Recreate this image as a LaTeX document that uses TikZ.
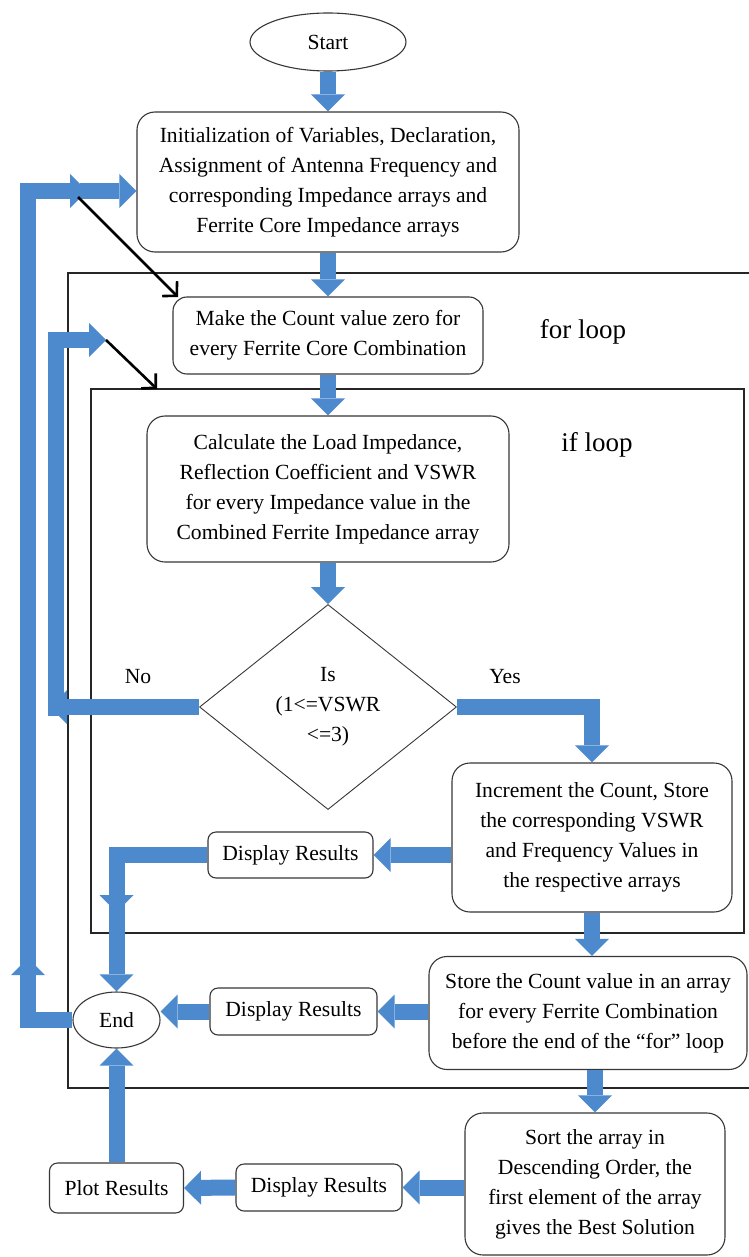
\documentclass[tikz,border=0pt]{standalone}
\usepackage{fontspec}
\setmainfont{Liberation Serif}
\usetikzlibrary{shapes.geometric,arrows.meta}
\definecolor{flowblue}{RGB}{76,138,205}
\definecolor{boxline}{RGB}{55,55,55}
\begin{document}
\begin{tikzpicture}[x=1pt,y=-1pt,
  every node/.style={font=\fontsize{21.6}{30}\selectfont, align=center, inner sep=0pt},
  bigbox/.style={draw=boxline, line width=1.1pt, rounded corners=18pt, fill=white},
  smallbox/.style={draw=boxline, line width=1.1pt, rounded corners=8pt, fill=white},
  term/.style={draw=boxline, line width=1.1pt, ellipse, fill=white},
  decision/.style={draw=boxline, line width=0.9pt, diamond},
  frame/.style={draw=black!85, line width=1.3pt},
  flow/.style={draw=flowblue, line width=16pt, line join=miter,
     -{Triangle[length=17pt,width=34pt,line width=0pt]}},
  jump/.style={draw=black, line width=2.6pt, -{Straight Barb[length=10pt,width=21pt]}},
  loopname/.style={font=\fontsize{27}{32}\selectfont}]
\useasboundingbox (0,0) rectangle (748,1257);
\fill[white] (0,0) rectangle (748,1257);

% loop frames
\draw[frame] (750,273) -- (68,273) -- (68,1088) -- (750,1088);
\draw[frame] (91,389) rectangle (744,933);

% nodes
\node[term, minimum width=156pt, minimum height=58pt] (start) at (328,42) {Start};
\node[bigbox, minimum width=382pt, minimum height=140pt] (init) at (328,182)
  {Initialization of Variables, Declaration,\\Assignment of Antenna Frequency and\\corresponding Impedance arrays and\\Ferrite Core Impedance arrays};
\node[bigbox, rounded corners=14pt, minimum width=310pt, minimum height=77pt] (make) at (328,335.5)
  {Make the Count value zero for\\every Ferrite Core Combination};
\node[bigbox, minimum width=362pt, minimum height=146pt] (calc) at (328,489)
  {Calculate the Load Impedance,\\Reflection Coefficient and VSWR\\for every Impedance value in the\\Combined Ferrite Impedance array};
\node[decision, minimum width=257pt, minimum height=205pt] (dec) at (328,707)
  {Is\\(1<=VSWR\\<=3)};
\node[bigbox, minimum width=280pt, minimum height=149pt] (incr) at (592,837.5)
  {Increment the Count, Store\\the corresponding VSWR\\and Frequency Values in\\the respective arrays};
\node[smallbox, minimum width=165pt, minimum height=46pt] (disp1) at (290.5,855) {Display Results};
\node[bigbox, minimum width=318pt, minimum height=113pt] (store) at (588,1013)
  {Store the Count value in an array\\for every Ferrite Combination\\before the end of the “for” loop};
\node[smallbox, minimum width=167pt, minimum height=47pt] (disp2) at (293.5,1011.5) {Display Results};
\node[term, minimum width=87pt, minimum height=56pt] (end) at (116.5,1020) {End};
\node[bigbox, minimum width=260pt, minimum height=142pt] (sort) at (595,1184)
  {Sort the array in\\Descending Order, the\\first element of the array\\gives the Best Solution};
\node[smallbox, minimum width=166pt, minimum height=47pt] (disp3) at (319,1187.5) {Display Results};
\node[smallbox, minimum width=134pt, minimum height=50pt] (plot) at (116.5,1188) {Plot Results};

% labels
\node[loopname] (forlbl) at (583,332) {for loop};
\node[loopname] (iflbl) at (597,445) {if loop};
\node (nolbl) at (138,677) {No};
\node (yeslbl) at (505,677) {Yes};

% helper coordinates
\coordinate (outerUp) at (28,958);
\coordinate (outerUpFrom) at (28,978);
\coordinate (outerCorner) at (28,191);
\coordinate (topMid) at (87,191);
\coordinate (topMidFrom) at (80,191);
\coordinate (jumpA) at (78,197);
\coordinate (forEntry) at (178,297);
\coordinate (noTip) at (50,707);
\coordinate (innerFrom) at (56,716);
\coordinate (innerCorner) at (56,340);
\coordinate (innerTip) at (106,340);
\coordinate (ifEntry) at (157,389);
\coordinate (d1Tip) at (116.5,912);
\coordinate (d1From) at (116.5,898);

% main flow
\draw[flow] (start.south) -- (init.north);
\draw[flow] (init.south) -- (make.north);
\draw[flow] (make.south) -- (calc.north);
\draw[flow] (calc.south) -- (dec.north);
\draw[flow] (dec.east) -| (incr.north);
\draw[flow] (incr.west |- disp1.east) -- (disp1.east);
\draw[flow] (disp1.west) -| (d1Tip);
\draw[flow] (d1From) -- (end.north);
\draw[flow] (incr.south) -- (incr.south |- store.north);
\draw[flow] (store.west |- disp2.east) -- (disp2.east);
\draw[flow] (disp2.west) -- (disp2.west -| end.east);
\draw[flow] (store.south -| sort.north) -- (sort.north);
\draw[flow] (sort.west |- disp3.east) -- (disp3.east);
\draw[flow] (disp3.west) -- (plot.east);
\draw[flow] (plot.north) -- (end.south);

% no branch and inner loop
\draw[flow] (dec.west) -- (noTip);
\draw[flow] (innerFrom) -- (innerCorner) -- (innerTip);

% outer loop
\draw[flow] (end.west) -- (end.west -| outerUp) -- (outerUp);
\draw[flow] (outerUpFrom) -- (outerCorner) -- (topMid);
\draw[flow] (topMidFrom) -- (topMidFrom -| init.west);

% black jump arrows
\draw[jump] (jumpA) -- (forEntry);
\draw[jump] (innerTip) -- (ifEntry);
\end{tikzpicture}
\end{document}
